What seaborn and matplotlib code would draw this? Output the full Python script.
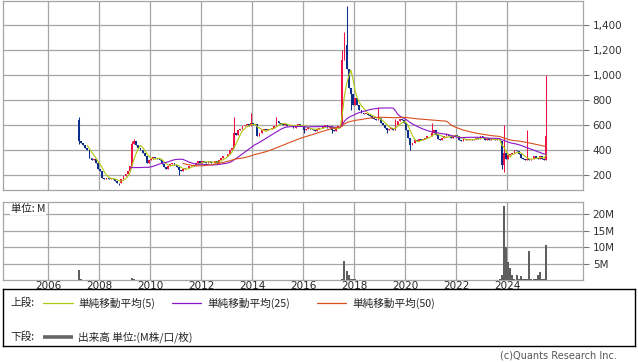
import numpy as np
import pandas as pd
import matplotlib
matplotlib.use("Agg")
import matplotlib.pyplot as plt
import seaborn as sns

# ---------------- data ----------------
first_month = 14  # months counted from Jan 2006 (14 -> Mar 2007)

closes = [
    470, 460, 440, 420, 400, 340, 320, 330, 300, 250, 230, 180,
    165, 175, 170, 180, 165, 150, 140, 135, 170, 190, 210, 235,
    270, 450, 470, 440, 420, 400, 380, 350, 300, 320, 330, 345,
    340, 330, 320, 290, 265, 250, 275, 290, 300, 280, 265, 240,
    230, 250, 255, 260, 270, 280, 270, 300, 310, 300, 310, 305,
    300, 310, 300, 295, 310, 300, 320, 340, 350, 355, 370, 400,
    420, 540, 520, 560, 570, 590, 600, 610, 590, 620, 600, 610,
    510, 540, 560, 570, 560, 565, 570, 580, 590, 630, 620, 610,
    600, 610, 590, 590, 600, 580, 600, 610, 600, 590, 560, 570,
    580, 570, 560, 555, 570, 580, 575, 590, 600, 580, 590, 560,
    550, 580, 590, 595, 1120, 1280, 1050, 900, 850, 760, 820, 760,
    720, 700, 690, 690, 680, 670, 660, 650, 640, 660, 620, 600,
    580, 560, 570, 580, 560, 600, 630, 650, 640, 620, 560, 500,
    440, 460, 480, 470, 490, 480, 490, 500, 510, 510, 540, 560,
    520, 490, 480, 500, 510, 520, 510, 500, 510, 520, 510, 480,
    470, 490, 480, 480, 490, 480, 490, 500, 485, 510, 500, 480,
    490, 480, 490, 485, 480, 490, 480, 280, 380, 330, 360, 370,
    380, 400, 390, 370, 340, 330, 320, 330, 320, 330, 350, 340,
    330, 350, 330, 320, 510,
]

volumes_m = [
    3.1, 0.4, 0.1, 0.1, 0.05, 0.05, 0.05, 0.05, 0.05, 0.05, 0.05, 0.05,
    0.05, 0.05, 0.05, 0.05, 0.05, 0.05, 0.05, 0.05, 0.05, 0.05, 0.05, 0.05,
    0.1, 0.5, 0.35, 0.1, 0.05, 0.05, 0.05, 0.05, 0.05, 0.05, 0.05, 0.05,
    0.05, 0.05, 0.05, 0.05, 0.05, 0.05, 0.05, 0.05, 0.05, 0.05, 0.05, 0.05,
    0.05, 0.05, 0.05, 0.05, 0.05, 0.05, 0.05, 0.05, 0.05, 0.05, 0.05, 0.05,
    0.05, 0.05, 0.05, 0.05, 0.05, 0.05, 0.05, 0.05, 0.05, 0.05, 0.05, 0.05,
    0.05, 0.1, 0.05, 0.05, 0.05, 0.05, 0.05, 0.05, 0.05, 0.05, 0.05, 0.05,
    0.05, 0.05, 0.05, 0.05, 0.05, 0.05, 0.05, 0.05, 0.05, 0.05, 0.05, 0.05,
    0.05, 0.05, 0.05, 0.05, 0.05, 0.05, 0.05, 0.05, 0.05, 0.05, 0.05, 0.05,
    0.05, 0.05, 0.05, 0.05, 0.05, 0.05, 0.05, 0.05, 0.05, 0.05, 0.05, 0.05,
    0.05, 0.05, 0.05, 0.05, 0.4, 5.8, 2.6, 1.5, 0.4, 0.4, 0.3, 0.1,
    0.1, 0.1, 0.05, 0.05, 0.05, 0.05, 0.05, 0.05, 0.05, 0.05, 0.05, 0.05,
    0.05, 0.05, 0.05, 0.05, 0.05, 0.05, 0.05, 0.05, 0.05, 0.05, 0.05, 0.05,
    0.05, 0.05, 0.05, 0.05, 0.05, 0.05, 0.05, 0.05, 0.05, 0.05, 0.05, 0.05,
    0.05, 0.05, 0.05, 0.05, 0.05, 0.05, 0.05, 0.05, 0.05, 0.05, 0.05, 0.05,
    0.05, 0.05, 0.05, 0.05, 0.05, 0.05, 0.05, 0.05, 0.05, 0.05, 0.05, 0.05,
    0.05, 0.05, 0.05, 0.05, 0.05, 0.05, 0.2, 1.5, 22.5, 10.0, 5.5, 3.6,
    1.4, 0.3, 1.5, 0.3, 1.2, 0.2, 0.2, 0.2, 8.8, 0.2, 0.2, 0.3,
    1.5, 2.3, 0.2, 0.2, 10.8,
]

open_marks = {14: 640, 140: 1240, 213: 470}
high_marks = {14: 665, 39: 470, 40: 490, 87: 665, 95: 700, 107: 665,
              138: 1200, 139: 1345, 140: 1550, 141: 1050, 155: 745,
              163: 650, 180: 616, 187: 540, 214: 600, 225: 560, 234: 1000}
low_marks = {14: 450, 33: 120, 61: 200, 120: 535, 133: 540, 142: 720,
             159: 536, 170: 400, 213: 250, 214: 225}

year_ticks = list(range(2006, 2025, 2))
price_ticks = [200, 400, 600, 800, 1000, 1200, 1400]
vol_ticks = [5, 10, 15, 20]
vol_tick_labels = ["5M", "10M", "15M", "20M"]
ma_windows = [5, 25, 50]
ma_labels = ["単純移動平均(5)", "単純移動平均(25)", "単純移動平均(50)"]
vol_label = "出来高 単位:(M株/口/枚)"

# ---------------- table ----------------
n = len(closes)
m_idx = np.arange(first_month, first_month + n)
df = pd.DataFrame({"m": m_idx, "close": closes, "vol": np.array(volumes_m) * 1e6})
df["t"] = 2006 + (df["m"] + 0.5) / 12.0
df["open"] = df["close"].shift(1)
for k, v in open_marks.items():
    df.loc[df["m"] == k, "open"] = v
df["high"] = df[["open", "close"]].max(axis=1)
df["low"] = df[["open", "close"]].min(axis=1)
for k, v in high_marks.items():
    df.loc[df["m"] == k, "high"] = v
for k, v in low_marks.items():
    df.loc[df["m"] == k, "low"] = v
for w in ma_windows:
    df[f"ma{w}"] = df["close"].rolling(w).mean()

# ---------------- style ----------------
sns.set_theme(style="white")
plt.rcParams["font.family"] = ["Noto Sans CJK JP", "DejaVu Sans"]

W, H = 638, 362
fig = plt.figure(figsize=(W / 100, H / 100), dpi=100)


def rect(x0, y0, x1, y1):
    return [x0 / W, 1 - y1 / H, (x1 - x0) / W, (y1 - y0) / H]


grid_c = "#a6a6a6"
red = "#ee1144"
blue = "#0c2e8a"
ma_colors = ["#b0c810", "#8a14c8", "#d8501e"]
xlim = (2006 - 45 / 25.5, 2006 + 535 / 25.5)

# ---- price panel ----
ax = fig.add_axes(rect(3, 0.5, 583, 190))
up = df["close"] >= df["open"]
for mask, col in [(up, red), (~up, blue)]:
    d = df[mask]
    ax.vlines(d["t"], d["low"], d["high"], color=col, lw=0.75, zorder=3)
    ax.bar(d["t"], (d["close"] - d["open"]).abs().clip(lower=5),
           bottom=d[["open", "close"]].min(axis=1), width=0.07,
           color=col, lw=0, zorder=3)

for w, c in zip(ma_windows, ma_colors):
    sns.lineplot(data=df, x="t", y=f"ma{w}", ax=ax, color=c, lw=0.8, zorder=4)
ax.set_xlabel("")
ax.set_ylabel("")
ax.set_xlim(*xlim)
ax.set_ylim(80, 1596)
ax.set_xticks(year_ticks)
ax.set_xticklabels([])
ax.set_yticks(price_ticks)
ax.grid(True, color=grid_c, lw=0.9)
ax.set_axisbelow(True)
ax.tick_params(axis="x", length=0, labelbottom=False, labeltop=False)
ax.yaxis.tick_right()
ax.tick_params(axis="y", length=4, width=0.8, color="#777777", pad=3,
               labelsize=7.5, labelcolor="#333333")
ax.set_yticklabels([f"{v:,}" for v in price_ticks], family="DejaVu Sans")
for s in ax.spines.values():
    s.set_color(grid_c)
    s.set_linewidth(0.9)

# ---- legend box (drawn first, transparent) ----
axl = fig.add_axes(rect(3, 289, 635, 346))
axl.patch.set_alpha(0)
axl.set_xlim(3, 635)
axl.set_ylim(346, 289)
axl.set_xticks([])
axl.set_yticks([])
for s in axl.spines.values():
    s.set_color("black")
    s.set_linewidth(1.0)
row1, row2 = 303, 337
fs = 7.7
axl.text(10, row1, "上段:", fontsize=fs, va="center", ha="left", color="#222222")
axl.text(10, row2, "下段:", fontsize=fs, va="center", ha="left", color="#222222")
line_x = [(43, 73), (172, 201), (317, 346)]
text_x = [78, 207, 352]
for (a, b), tx, c, lab in zip(line_x, text_x, ma_colors, ma_labels):
    axl.plot([a, b], [row1, row1], color=c, lw=0.9)
    axl.text(tx, row1, lab, fontsize=fs, va="center", ha="left", color="#222222")
axl.plot([43, 73], [row2, row2], color="#666666", lw=2.6, solid_capstyle="butt")
axl.text(78, row2, vol_label, fontsize=fs, va="center", ha="left", color="#222222")

# ---- volume panel ----
axv = fig.add_axes(rect(3, 202, 583, 280))
axv.bar(df["t"], df["vol"], width=0.075, color="#5f5f5f", lw=0, zorder=3)
axv.set_xlim(*xlim)
axv.set_ylim(0, 23.8e6)
axv.set_xticks(year_ticks)
axv.set_xticklabels([str(y) for y in year_ticks], family="DejaVu Sans")
axv.set_yticks([v * 1e6 for v in vol_ticks])
axv.set_yticklabels(vol_tick_labels, family="DejaVu Sans")
axv.grid(True, color=grid_c, lw=0.9)
axv.set_axisbelow(True)
axv.yaxis.tick_right()
axv.xaxis.set_ticks_position("bottom")
axv.tick_params(axis="y", length=4, width=0.8, color="#777777", pad=3,
                labelsize=7.5, labelcolor="#333333")
axv.tick_params(axis="x", length=0, pad=0.5, labelsize=7.5, labelcolor="#222222",
                labelbottom=True, labeltop=False)
for s in axv.spines.values():
    s.set_color(grid_c)
    s.set_linewidth(0.9)
axv.text(8 / 580, 1 - 7 / 78, "単位: M", transform=axv.transAxes, ha="left",
         va="center", fontsize=7.5, color="#222222",
         bbox=dict(fc="white", ec="none", pad=0.5), zorder=5)

fig.text(617 / W, 1 - 356 / H, "(c)Quants Research Inc.", ha="right", va="center",
         fontsize=7, color="#555555", family="DejaVu Sans")

fig.savefig("out.png", dpi=100)
